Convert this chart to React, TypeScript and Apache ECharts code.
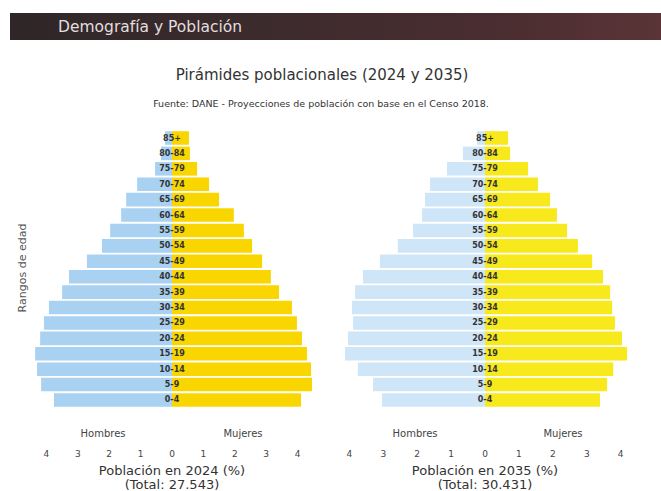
import React, { useEffect, useRef } from "react";
import * as echarts from "echarts";

// Age groups, bottom to top
const ageGroups = ["0-4", "5-9", "10-14", "15-19", "20-24", "25-29", "30-34", "35-39", "40-44", "45-49", "50-54", "55-59", "60-64", "65-69", "70-74", "75-79", "80-84", "85+"];

// 2024 (% of total population), bottom to top
const men2024 = [3.76, 4.17, 4.30, 4.36, 4.20, 4.08, 3.92, 3.50, 3.28, 2.71, 2.23, 1.97, 1.62, 1.46, 1.11, 0.54, 0.35, 0.22];
const women2024 = [4.11, 4.46, 4.43, 4.30, 4.14, 3.98, 3.82, 3.41, 3.15, 2.87, 2.55, 2.29, 1.97, 1.50, 1.18, 0.80, 0.57, 0.54];

// 2035 (% of total population), bottom to top
const men2035 = [3.04, 3.30, 3.75, 4.13, 4.04, 3.89, 3.92, 3.83, 3.60, 3.10, 2.57, 2.12, 1.86, 1.77, 1.62, 1.12, 0.65, 0.24];
const women2035 = [3.39, 3.60, 3.78, 4.19, 4.04, 3.83, 3.75, 3.69, 3.48, 3.16, 2.74, 2.42, 2.12, 1.92, 1.56, 1.27, 0.74, 0.68];

const tickValues = [-4, -3, -2, -1, 0, 1, 2, 3, 4];

const headerText = "Demografía y Población";
const titleText = "Pirámides poblacionales (2024 y 2035)";
const subtitleText = "Fuente: DANE - Proyecciones de población con base en el Censo 2018.";
const axisName2024 = "Población en 2024 (%)\n(Total: 27.543)";
const axisName2035 = "Población en 2035 (%)\n(Total: 30.431)";
const yName = "Rangos de edad";
const menLabel = "Hombres";
const womenLabel = "Mujeres";

const FONT = "DejaVu Sans";

export default function App() {
  const ref = useRef<HTMLDivElement>(null);
  useEffect(() => {
    if (!ref.current) return;
    const chart = echarts.init(ref.current, null, { renderer: "svg" });

    const grids = [
      { left: 27.6, width: 288.8, top: 130.3, height: 277.4, containLabel: false, outerBoundsMode: "none" },
      { left: 329, width: 312, top: 130.3, height: 277.4, containLabel: false, outerBoundsMode: "none" },
    ];

    const mkX = (gridIndex: number, name: string) => ({
      type: "value",
      gridIndex,
      min: -4.6,
      max: 4.6,
      axisLine: { show: false },
      axisTick: { show: false },
      splitLine: { show: false },
      axisLabel: {
        customValues: tickValues,
        formatter: (v: number) => String(Math.abs(v)),
        margin: 42,
        fontSize: 9,
        color: "#444",
        fontFamily: FONT,
      },
      name,
      nameLocation: "middle",
      nameGap: 45,
      nameTextStyle: { fontSize: 13, lineHeight: 14, color: "#333", fontFamily: FONT },
    });

    const mkY = (gridIndex: number) => ({
      type: "category",
      gridIndex,
      data: ageGroups,
      z: 10,
      offset: -grids[gridIndex].width / 2,
      axisLine: { show: false, onZero: false },
      axisTick: { show: false },
      splitLine: { show: false },
      axisLabel: {
        align: "center",
        margin: 0,
        fontSize: 8,
        fontWeight: "bold",
        color: "#333",
        fontFamily: FONT,
      },
    });

    const bar = (
      xi: number,
      data: number[],
      color: string,
      stack: string,
      neg: boolean
    ) => ({
      type: "bar",
      xAxisIndex: xi,
      yAxisIndex: xi,
      stack,
      barCategoryGap: "12%",
      data: neg ? data.map((v) => -v) : data,
      itemStyle: { color },
    });

    const smallText = (x: number, text: string) => ({
      type: "text",
      x,
      y: 433,
      style: { text, fill: "#444", fontSize: 10, fontFamily: FONT, align: "center", verticalAlign: "middle" },
    });

    chart.setOption({
      animation: false,
      backgroundColor: "#ffffff",
      grid: grids,
      xAxis: [mkX(0, axisName2024), mkX(1, axisName2035)],
      yAxis: [mkY(0), mkY(1)],
      series: [
        bar(0, men2024, "#a9d1f2", "a", true),
        bar(0, women2024, "#f9d600", "a", false),
        bar(1, men2035, "#cfe5f8", "b", true),
        bar(1, women2035, "#f7e91c", "b", false),
      ],
      graphic: [
        {
          type: "rect",
          shape: { x: 10, y: 13, width: 651, height: 27 },
          style: {
            fill: new echarts.graphic.LinearGradient(0, 0, 1, 0, [
              { offset: 0, color: "#2f2628" },
              { offset: 0.35, color: "#3b2b2d" },
              { offset: 0.75, color: "#4a2d30" },
              { offset: 1, color: "#5a3437" },
            ]),
          },
        },
        {
          type: "text",
          x: 58,
          y: 27,
          style: {
            text: headerText,
            fill: "#e2dede",
            fontSize: 15.5,
            fontFamily: FONT,
            verticalAlign: "middle",
          },
        },
        {
          type: "text",
          x: 322,
          y: 75,
          style: {
            text: titleText,
            fill: "#333",
            fontSize: 15,
            fontFamily: FONT,
            align: "center",
            verticalAlign: "middle",
          },
        },
        {
          type: "text",
          x: 321,
          y: 103,
          style: {
            text: subtitleText,
            fill: "#333",
            fontSize: 9.5,
            fontFamily: FONT,
            align: "center",
            verticalAlign: "middle",
          },
        },
        {
          type: "text",
          x: 22,
          y: 268,
          rotation: Math.PI / 2,
          style: {
            text: yName,
            fill: "#555",
            fontSize: 11,
            fontFamily: FONT,
            align: "center",
            verticalAlign: "middle",
          },
        },
        smallText(103, menLabel),
        smallText(243, womenLabel),
        smallText(415, menLabel),
        smallText(563, womenLabel),
      ],
    });
    return () => chart.dispose();
  }, []);

  return (
    <div
      ref={ref}
      style={{ position: "fixed", left: 0, top: 0, width: 661, height: 491, background: "#fff" }}
    />
  );
}
